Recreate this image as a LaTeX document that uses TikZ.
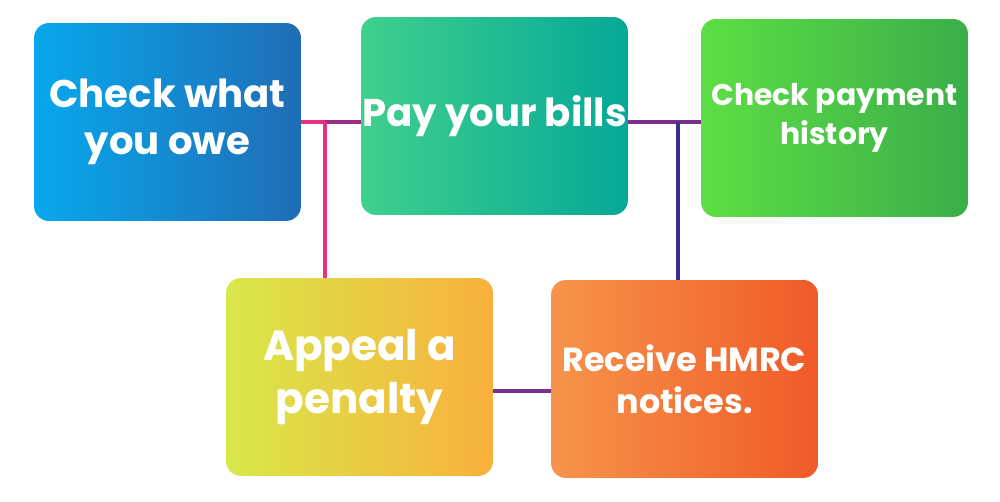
\documentclass[tikz,border=0pt]{standalone}
\usepackage{fontspec}
\setmainfont{Poppins}
\usepackage{tikz}
\usetikzlibrary{positioning}
\definecolor{bluea}{HTML}{08A8EC}\definecolor{blueb}{HTML}{1F6DB6}
\definecolor{greena}{HTML}{40D08C}\definecolor{greenb}{HTML}{05A898}
\definecolor{lima}{HTML}{5EDE44}\definecolor{limb}{HTML}{3AAE4A}
\definecolor{yella}{HTML}{D8E84A}\definecolor{yellb}{HTML}{F9B03C}
\definecolor{orna}{HTML}{F6944A}\definecolor{ornb}{HTML}{F05A28}
\definecolor{pinkline}{HTML}{E5317F}\definecolor{purpline}{HTML}{7A2E8E}
\definecolor{navyline}{HTML}{3B2F8F}
\begin{document}
\begin{tikzpicture}[x=0.02cm, y=-0.02cm,
  card/.style={rectangle, rounded corners=0.3cm, minimum width=5.34cm, minimum height=3.96cm,
    align=center, text=white, font=\bfseries\fontsize{22}{27}\selectfont, inner sep=0pt},
  link/.style={line width=2.3pt}
]
  \useasboundingbox (0,0) rectangle (1000,502);
  % Cards
  \node[card, left color=bluea, right color=blueb] (owe) at (167.5,122) {Check what\\you owe};
  \node[card, left color=greena, right color=greenb] (bills) at (494.5,116) {Pay your bills};
  \node[card, left color=lima, right color=limb, font=\bfseries\fontsize{17}{22}\selectfont] (history) at (834.5,118) {Check payment\\history};
  \node[card, left color=yella, right color=yellb, font=\bfseries\fontsize{24}{30}\selectfont] (appeal) at (359.5,377) {Appeal a\\penalty};
  \node[card, left color=orna, right color=ornb, font=\bfseries\fontsize{19}{24}\selectfont] (notices) at (684.5,379) {Receive HMRC\\notices.};

  % Links
  \coordinate (j1) at (325,122);
  \coordinate (j2) at (678,122);
  \coordinate (j3) at (493,391);
  \draw[link, pinkline] (owe.east) -- (j1);
  \draw[link, purpline!70!pinkline] (j1) -- (owe.east -| bills.west);
  \draw[link, pinkline] (j1) -- (j1 |- appeal.north);
  \draw[link, purpline] (j2 -| bills.east) -- (j2 -| history.west);
  \draw[link, navyline] (j2) -- (j2 |- notices.north);
  \draw[link, purpline] (j3) -- (j3 -| notices.west);
\end{tikzpicture}
\end{document}
